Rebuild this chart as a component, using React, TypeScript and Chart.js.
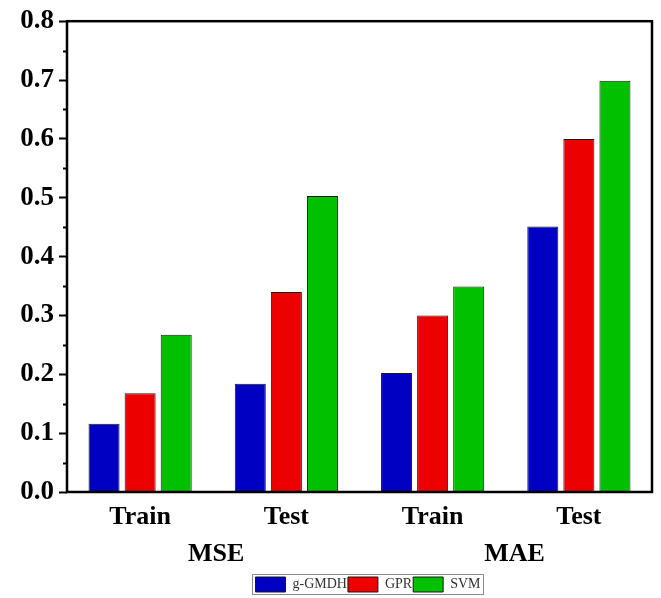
import React, { useEffect, useRef } from 'react';
import { Chart, registerables } from 'chart.js';

Chart.register(...registerables);

const categories = ['Train', 'Test', 'Train', 'Test'];
const groupLabels = ['MSE', 'MAE'];
const groupLabelPositions = [0.52, 2.56];
const seriesNames = ['g-GMDH', 'GPR', 'SVM'];
const gmdhValues = [0.116, 0.184, 0.202, 0.451];
const gprValues = [0.168, 0.34, 0.3, 0.6];
const svmValues = [0.267, 0.503, 0.349, 0.699];
const yTickValues = [0, 0.1, 0.2, 0.3, 0.4, 0.5, 0.6, 0.7, 0.8];
const seriesColors = ['#0000C2', '#EC0000', '#00C000'];

const FONT = '"Liberation Serif", "Times New Roman", serif';
const LEGEND_SHIFT_X = 42;
const LEGEND_SHIFT_Y = 7;

const framePlugin = {
  id: 'frameAndLabels',
  afterLayout(chart: any) {
    const lg = chart.legend;
    if (!lg) return;
    lg.left += LEGEND_SHIFT_X;
    lg.right += LEGEND_SHIFT_X;
    lg.top += LEGEND_SHIFT_Y;
    lg.bottom += LEGEND_SHIFT_Y;
  },
  afterDatasetsDraw(chart: any) {
    const { ctx, chartArea: a, scales } = chart;
    ctx.save();
    ctx.strokeStyle = '#000';
    ctx.lineWidth = 2;
    const y = scales.y;
    for (let i = 0; i < yTickValues.length - 1; i++) {
      const v = (yTickValues[i] + yTickValues[i + 1]) / 2;
      const py = Math.round(y.getPixelForValue(v)) + 0.5;
      ctx.beginPath();
      ctx.moveTo(a.left - 4, py);
      ctx.lineTo(a.left, py);
      ctx.stroke();
    }
    ctx.lineWidth = 2.5;
    ctx.strokeRect(a.left, a.top, a.right - a.left, a.bottom - a.top);

    ctx.font = 'bold 26px ' + FONT;
    ctx.fillStyle = '#000';
    ctx.textAlign = 'center';
    ctx.textBaseline = 'middle';
    groupLabels.forEach((t, i) => {
      ctx.fillText(t, scales.x.getPixelForValue(groupLabelPositions[i]), a.bottom + 62);
    });
    ctx.restore();
  },
  afterDraw(chart: any) {
    const lg = chart.legend;
    if (!lg || !lg.legendHitBoxes || !lg.legendHitBoxes.length) return;
    const hb = lg.legendHitBoxes;
    const first = hb[0];
    const last = hb[hb.length - 1];
    const { ctx } = chart;
    ctx.save();
    ctx.strokeStyle = '#8a8a8a';
    ctx.lineWidth = 1;
    const l = Math.round(first.left) - 2.5;
    const r = Math.round(last.left + last.width) + 2.5;
    const t = Math.round(first.top) - 2.5;
    const b = Math.round(first.top + first.height) + 2.5;
    ctx.strokeRect(l, t, r - l, b - t);
    ctx.restore();
  },
};

export default function App() {
  const canvasRef = useRef<HTMLCanvasElement | null>(null);

  useEffect(() => {
    if (!canvasRef.current) return;
    const values = [gmdhValues, gprValues, svmValues];
    const chart = new Chart(canvasRef.current, {
      type: 'bar',
      data: {
        labels: categories,
        datasets: seriesNames.map((name, i) => ({
          label: name,
          data: values[i],
          backgroundColor: seriesColors[i],
          borderColor: '#1a1a1a',
          borderWidth: 1,
          categoryPercentage: 0.74,
          barPercentage: 0.86,
        })),
      },
      options: {
        animation: false,
        responsive: true,
        maintainAspectRatio: false,
        layout: { padding: { left: 0, right: 9, top: 19, bottom: 3 } },
        plugins: {
          tooltip: { enabled: false },
          legend: {
            display: true,
            position: 'bottom',
            labels: {
              boxWidth: 30,
              boxHeight: 15,
              padding: 1,
              color: '#333',
              font: { family: FONT, size: 14 },
            },
          },
        },
        scales: {
          x: {
            grid: { display: false, drawTicks: false },
            border: { display: false },
            ticks: {
              color: '#000',
              padding: 10,
              font: { family: FONT, size: 26, weight: 'bold' },
            },
            afterFit: (scale: any) => {
              scale.height = 77;
            },
          },
          y: {
            min: 0,
            max: 0.8,
            grid: {
              drawOnChartArea: false,
              drawTicks: true,
              tickLength: 8,
              tickColor: '#000',
              tickWidth: 2,
            },
            border: { display: false },
            ticks: {
              stepSize: 0.1,
              color: '#000',
              padding: 5,
              font: { family: FONT, size: 27, weight: 'bold' },
              callback: (v: any) => Number(v).toFixed(1),
            },
            afterFit: (scale: any) => {
              scale.width = 67;
            },
          },
        },
      },
      plugins: [framePlugin],
    });
    return () => chart.destroy();
  }, []);

  return (
    <div style={{ position: 'fixed', left: 0, top: 0, width: 661, height: 598, background: '#fff' }}>
      <canvas ref={canvasRef} />
    </div>
  );
}
